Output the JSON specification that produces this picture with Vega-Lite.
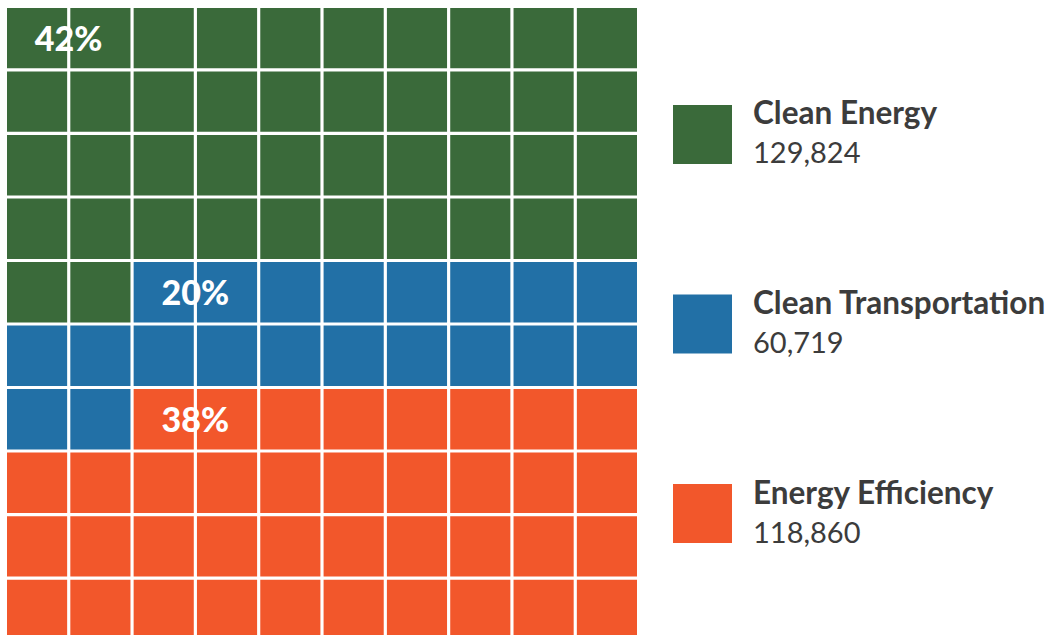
{
  "$schema": "https://vega.github.io/schema/vega-lite/v6.json",
  "padding": {"left": 7, "top": 8, "right": 0, "bottom": 0},
  "background": "white",
  "spacing": 0,
  "config": {"view": {"stroke": null}, "font": "Lato"},
  "hconcat": [
    {
      "width": 630,
      "height": 632,
      "layer": [
        {
          "data": {"values": [
            {"c":0,"r":0,"k":"CE"},{"c":1,"r":0,"k":"CE"},{"c":2,"r":0,"k":"CE"},{"c":3,"r":0,"k":"CE"},{"c":4,"r":0,"k":"CE"},{"c":5,"r":0,"k":"CE"},{"c":6,"r":0,"k":"CE"},{"c":7,"r":0,"k":"CE"},{"c":8,"r":0,"k":"CE"},{"c":9,"r":0,"k":"CE"},
            {"c":0,"r":1,"k":"CE"},{"c":1,"r":1,"k":"CE"},{"c":2,"r":1,"k":"CE"},{"c":3,"r":1,"k":"CE"},{"c":4,"r":1,"k":"CE"},{"c":5,"r":1,"k":"CE"},{"c":6,"r":1,"k":"CE"},{"c":7,"r":1,"k":"CE"},{"c":8,"r":1,"k":"CE"},{"c":9,"r":1,"k":"CE"},
            {"c":0,"r":2,"k":"CE"},{"c":1,"r":2,"k":"CE"},{"c":2,"r":2,"k":"CE"},{"c":3,"r":2,"k":"CE"},{"c":4,"r":2,"k":"CE"},{"c":5,"r":2,"k":"CE"},{"c":6,"r":2,"k":"CE"},{"c":7,"r":2,"k":"CE"},{"c":8,"r":2,"k":"CE"},{"c":9,"r":2,"k":"CE"},
            {"c":0,"r":3,"k":"CE"},{"c":1,"r":3,"k":"CE"},{"c":2,"r":3,"k":"CE"},{"c":3,"r":3,"k":"CE"},{"c":4,"r":3,"k":"CE"},{"c":5,"r":3,"k":"CE"},{"c":6,"r":3,"k":"CE"},{"c":7,"r":3,"k":"CE"},{"c":8,"r":3,"k":"CE"},{"c":9,"r":3,"k":"CE"},
            {"c":0,"r":4,"k":"CE"},{"c":1,"r":4,"k":"CE"},{"c":2,"r":4,"k":"CT"},{"c":3,"r":4,"k":"CT"},{"c":4,"r":4,"k":"CT"},{"c":5,"r":4,"k":"CT"},{"c":6,"r":4,"k":"CT"},{"c":7,"r":4,"k":"CT"},{"c":8,"r":4,"k":"CT"},{"c":9,"r":4,"k":"CT"},
            {"c":0,"r":5,"k":"CT"},{"c":1,"r":5,"k":"CT"},{"c":2,"r":5,"k":"CT"},{"c":3,"r":5,"k":"CT"},{"c":4,"r":5,"k":"CT"},{"c":5,"r":5,"k":"CT"},{"c":6,"r":5,"k":"CT"},{"c":7,"r":5,"k":"CT"},{"c":8,"r":5,"k":"CT"},{"c":9,"r":5,"k":"CT"},
            {"c":0,"r":6,"k":"CT"},{"c":1,"r":6,"k":"CT"},{"c":2,"r":6,"k":"EE"},{"c":3,"r":6,"k":"EE"},{"c":4,"r":6,"k":"EE"},{"c":5,"r":6,"k":"EE"},{"c":6,"r":6,"k":"EE"},{"c":7,"r":6,"k":"EE"},{"c":8,"r":6,"k":"EE"},{"c":9,"r":6,"k":"EE"},
            {"c":0,"r":7,"k":"EE"},{"c":1,"r":7,"k":"EE"},{"c":2,"r":7,"k":"EE"},{"c":3,"r":7,"k":"EE"},{"c":4,"r":7,"k":"EE"},{"c":5,"r":7,"k":"EE"},{"c":6,"r":7,"k":"EE"},{"c":7,"r":7,"k":"EE"},{"c":8,"r":7,"k":"EE"},{"c":9,"r":7,"k":"EE"},
            {"c":0,"r":8,"k":"EE"},{"c":1,"r":8,"k":"EE"},{"c":2,"r":8,"k":"EE"},{"c":3,"r":8,"k":"EE"},{"c":4,"r":8,"k":"EE"},{"c":5,"r":8,"k":"EE"},{"c":6,"r":8,"k":"EE"},{"c":7,"r":8,"k":"EE"},{"c":8,"r":8,"k":"EE"},{"c":9,"r":8,"k":"EE"},
            {"c":0,"r":9,"k":"EE"},{"c":1,"r":9,"k":"EE"},{"c":2,"r":9,"k":"EE"},{"c":3,"r":9,"k":"EE"},{"c":4,"r":9,"k":"EE"},{"c":5,"r":9,"k":"EE"},{"c":6,"r":9,"k":"EE"},{"c":7,"r":9,"k":"EE"},{"c":8,"r":9,"k":"EE"},{"c":9,"r":9,"k":"EE"}
          ]},
          "mark": {"type": "rect"},
          "encoding": {
            "x": {"field": "c", "type": "ordinal", "axis": null, "scale": {"paddingInner": 0.05, "paddingOuter": 0}},
            "y": {"field": "r", "type": "ordinal", "axis": null, "scale": {"paddingInner": 0.05, "paddingOuter": 0}},
            "color": {"field": "k", "type": "nominal", "legend": null, "scale": {"domain": ["CE", "CT", "EE"], "range": ["#3a6a3a", "#2270a6", "#f2572b"]}}
          }
        },
        {
          "data": {"values": [
            {"label": "42%", "c": 0, "r": 0},
            {"label": "20%", "c": 2, "r": 4},
            {"label": "38%", "c": 2, "r": 6}
          ]},
          "mark": {"type": "text", "font": "Lato", "fontWeight": 900, "fontSize": 34, "color": "white", "align": "center", "baseline": "middle", "dx": 1.5, "dy": 3},
          "encoding": {
            "x": {"field": "c", "type": "ordinal", "bandPosition": 1},
            "y": {"field": "r", "type": "ordinal", "bandPosition": 0.5},
            "text": {"field": "label"}
          }
        }
      ]
    },
    {
      "width": 414,
      "height": 632,
      "data": {"values": [
        {"k": "CE", "name": "Clean Energy", "amount": "129,824"},
        {"k": "CT", "name": "Clean Transportation", "amount": "60,719"},
        {"k": "EE", "name": "Energy Efficiency", "amount": "118,860"}
      ]},
      "encoding": {
        "y": {"field": "k", "type": "ordinal", "axis": null, "scale": {"type": "point", "padding": 0.667, "domain": ["CE", "CT", "EE"]}}
      },
      "layer": [
        {
          "mark": {"type": "square", "size": 3481, "opacity": 1, "filled": true},
          "encoding": {
            "x": {"value": 65.5},
            "color": {"field": "k", "type": "nominal", "legend": null, "scale": {"domain": ["CE", "CT", "EE"], "range": ["#3a6a3a", "#2270a6", "#f2572b"]}}
          }
        },
        {
          "mark": {"type": "text", "font": "Lato", "fontWeight": "bold", "fontSize": 31.5, "color": "#3c3c3c", "align": "left", "baseline": "alphabetic", "dy": -10},
          "encoding": {
            "x": {"value": 116},
            "text": {"field": "name"}
          }
        },
        {
          "mark": {"type": "text", "font": "Lato", "fontWeight": "normal", "fontSize": 29, "color": "#3c3c3c", "align": "left", "baseline": "alphabetic", "dy": 29},
          "encoding": {
            "x": {"value": 116},
            "text": {"field": "amount"}
          }
        }
      ]
    }
  ]
}
